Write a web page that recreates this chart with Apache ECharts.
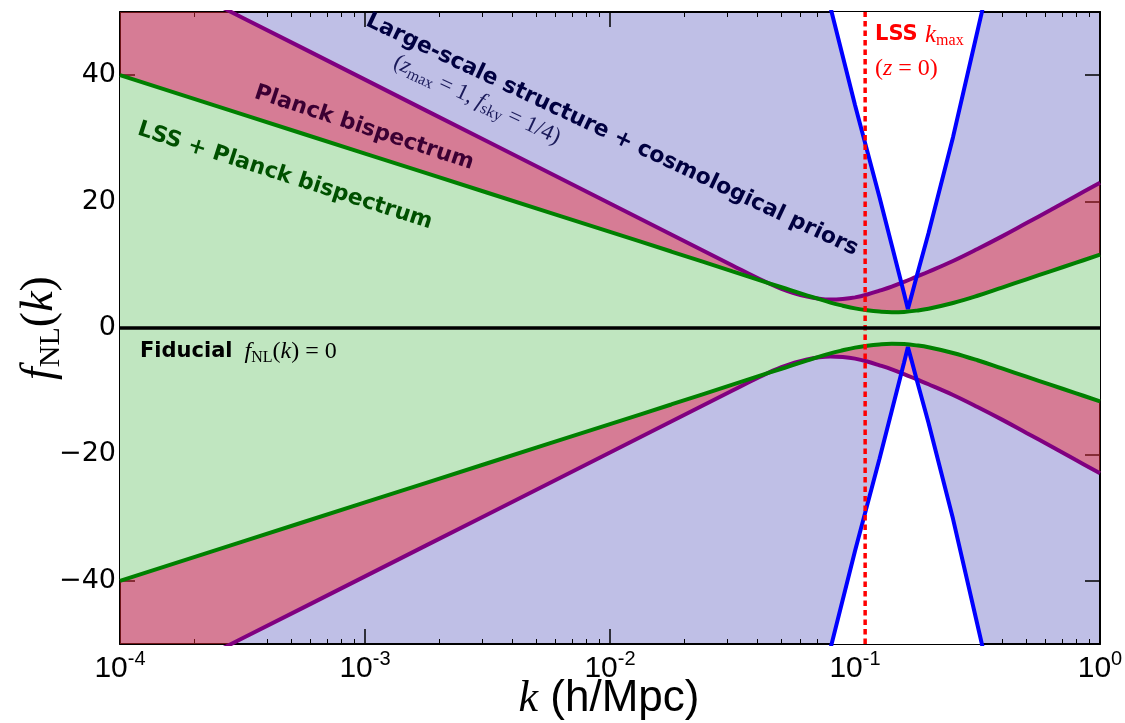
<!DOCTYPE html>
<html><head><meta charset="utf-8">
<script src="https://cdn.jsdelivr.net/npm/echarts@6/dist/echarts.min.js"></script>
<style>html,body{margin:0;padding:0;background:#fff}#c{width:1125px;height:723px}</style>
</head><body><div id="c"></div>
<script>
// ---- data ----
const kGrid = [1e-4, 3.162e-4, 1e-3, 3.162e-3, 1e-2, 1.778e-2, 3.162e-2, 3.981e-2, 5.012e-2, 6.310e-2,
  7.943e-2, 8.913e-2, 0.1, 0.1122, 0.1259, 0.1413, 0.1585, 0.1778, 0.1995, 0.2512, 0.3162, 0.3981,
  0.5012, 0.6310, 0.7943, 1.0];
const planckUpper = [58.9, 49.1, 39.3, 29.5, 19.7, 14.8, 9.9, 7.95, 6.2, 5.0, 4.5, 4.6, 4.85, 5.3, 5.9,
  6.55, 7.3, 8.1, 8.9, 10.6, 12.5, 14.5, 16.6, 18.7, 20.85, 23.0];
const planckLower = [-58.9, -49.1, -39.3, -29.5, -19.7, -14.8, -9.9, -7.95, -6.2, -5.0, -4.5, -4.6, -4.85, -5.3, -5.9,
  -6.55, -7.3, -8.1, -8.9, -10.6, -12.5, -14.5, -16.6, -18.7, -20.85, -23.0];
const comboUpper = [40.0, 33.8, 27.6, 21.4, 15.2, 12.1, 8.95, 7.7, 6.45, 5.2, 4.02, 3.53, 3.1, 2.8, 2.6,
  2.5, 2.55, 2.75, 3.05, 3.95, 5.1, 6.4, 7.7, 9.0, 10.3, 11.6];
const comboLower = [-40.0, -33.8, -27.6, -21.4, -15.2, -12.1, -8.95, -7.7, -6.45, -5.2, -4.02, -3.53, -3.1, -2.8, -2.6,
  -2.5, -2.55, -2.75, -3.05, -3.95, -5.1, -6.4, -7.7, -9.0, -10.3, -11.6];
const kLss = [0.07079, 0.07943, 0.1, 0.1259, 0.1413, 0.1585, 0.1644, 0.1698, 0.1778, 0.1995, 0.2512, 0.3162, 0.3548];
const lssUpper = [56.9, 50.7, 35.3, 20.7, 13.1, 5.5, 3.0, 5.0, 7.9, 15.0, 30.2, 47.0, 55.4];
const lssLower = [-56.9, -50.7, -35.3, -20.7, -13.1, -5.5, -3.0, -5.0, -7.9, -15.0, -30.2, -47.0, -55.4];
const kMaxLSS = 0.11;
const xRange = [1e-4, 1];
const yRange = [-50, 50];
const xTickValues = [1e-4, 1e-3, 1e-2, 1e-1, 1];
const xTickExps = ['-4', '-3', '-2', '-1', '0'];
const yTickValues = [-40, -20, 0, 20, 40];
const yTickLabels = ['\u221240', '\u221220', '0', '20', '40'];
const minorMultipliers = [2, 3, 4, 5, 6, 7, 8, 9];
const decades = [-4, -3, -2, -1];

// ---- build ----
const pairs = (xs, ys) => xs.map((x, i) => [x, ys[i]]);
const minorLog = [];
decades.forEach(d => minorMultipliers.forEach(m => minorLog.push(d + Math.log10(m))));

const COL_LAV = '#bfbfe6', COL_GREENFILL = '#c0e6c0';
const RED_ALPHA = 'rgba(242,42,51,0.45)';
const SERIF = '"Liberation Serif", "DejaVu Serif", serif';
const SANS = '"DejaVu Sans", sans-serif';

function fillSeries(name, data, color, origin, smooth) {
  return { name, type: 'line', data, xAxisIndex: 0, yAxisIndex: 0, symbol: 'none', smooth,
    silent: true, lineStyle: { width: 0 }, areaStyle: { color, opacity: 1, origin }, z: 1 };
}
function lineSeries(name, data, color, width, smooth, z, type) {
  return { name, type: 'line', data, xAxisIndex: 0, yAxisIndex: 0, symbol: 'none', smooth,
    silent: true, lineStyle: { color, width, type: type || 'solid', cap: 'butt' }, z };
}

const axisCommon = {
  splitLine: { show: false }, minorTick: { show: false }, minorSplitLine: { show: false }
};

const option = {
  animation: false,
  backgroundColor: '#ffffff',
  grid: { left: 120, top: 12, width: 980, height: 632, show: true, backgroundColor: COL_LAV,
    borderWidth: 0, containLabel: false, outerBoundsMode: 'none' },
  xAxis: [
    Object.assign({ type: 'log', logBase: 10, min: xRange[0], max: xRange[1], position: 'bottom',
      axisLine: { show: true, onZero: false, lineStyle: { color: '#000', width: 2 } },
      axisTick: { show: true, inside: true, length: 15, lineStyle: { color: '#000', width: 1.5 } },
      axisLabel: { show: true, margin: 5, showMinLabel: true, showMaxLabel: true,
        formatter: v => {
          const i = xTickValues.findIndex(t => Math.abs(Math.log10(t) - Math.log10(v)) < 1e-6);
          return i < 0 ? '' : '{b|10}{s|' + xTickExps[i] + '}';
        },
        rich: {
          b: { fontFamily: '"Liberation Sans", Arial, sans-serif', fontSize: 30, lineHeight: 40, color: '#000' },
          s: { fontFamily: '"Liberation Sans", Arial, sans-serif', fontSize: 20, lineHeight: 22, verticalAlign: 'top', color: '#000' }
        } } }, axisCommon),
    Object.assign({ type: 'log', logBase: 10, min: xRange[0], max: xRange[1], position: 'top',
      axisLine: { show: true, onZero: false, lineStyle: { color: '#000', width: 2 } },
      axisTick: { show: true, inside: true, length: 15, lineStyle: { color: '#000', width: 1.5 } },
      axisLabel: { show: false } }, axisCommon),
    Object.assign({ type: 'value', min: -4, max: 0, position: 'bottom',
      axisLine: { show: false, onZero: false },
      axisTick: { show: true, inside: true, length: 5, customValues: minorLog, lineStyle: { color: '#000', width: 1 } },
      axisLabel: { show: false } }, axisCommon),
    Object.assign({ type: 'value', min: -4, max: 0, position: 'top',
      axisLine: { show: false, onZero: false },
      axisTick: { show: true, inside: true, length: 5, customValues: minorLog, lineStyle: { color: '#000', width: 1 } },
      axisLabel: { show: false } }, axisCommon)
  ],
  yAxis: [
    Object.assign({ type: 'value', min: yRange[0], max: yRange[1], position: 'left',
      axisLine: { show: true, onZero: false, lineStyle: { color: '#000', width: 2 } },
      axisTick: { show: true, inside: true, length: 15, customValues: yTickValues, lineStyle: { color: '#000', width: 1.5 } },
      axisLabel: { show: true, customValues: yTickValues, margin: 4, color: '#000', fontSize: 27, fontFamily: SANS,
        formatter: v => { const i = yTickValues.indexOf(v); return i < 0 ? '' : yTickLabels[i]; } } }, axisCommon),
    Object.assign({ type: 'value', min: yRange[0], max: yRange[1], position: 'right',
      axisLine: { show: true, onZero: false, lineStyle: { color: '#000', width: 2 } },
      axisTick: { show: true, inside: true, length: 15, customValues: yTickValues, lineStyle: { color: '#000', width: 1.5 } },
      axisLabel: { show: false } }, axisCommon)
  ],
  series: [
    fillSeries('LSS allowed (upper)', pairs(kLss, lssUpper), '#ffffff', 'end', false),
    fillSeries('LSS allowed (lower)', pairs(kLss, lssLower), '#ffffff', 'start', false),
    fillSeries('Planck band (upper)', pairs(kGrid, planckUpper), RED_ALPHA, 'auto', 0.4),
    fillSeries('Planck band (lower)', pairs(kGrid, planckLower), RED_ALPHA, 'auto', 0.4),
    fillSeries('Combined band (upper)', pairs(kGrid, comboUpper), COL_GREENFILL, 'auto', 0.4),
    fillSeries('Combined band (lower)', pairs(kGrid, comboLower), COL_GREENFILL, 'auto', 0.4),
    lineSeries('Planck bispectrum (upper)', pairs(kGrid, planckUpper), '#800080', 4, 0.4, 3),
    lineSeries('Planck bispectrum (lower)', pairs(kGrid, planckLower), '#800080', 4, 0.4, 3),
    lineSeries('LSS (upper)', pairs(kLss, lssUpper), '#0000ff', 4, false, 4),
    lineSeries('LSS (lower)', pairs(kLss, lssLower), '#0000ff', 4, false, 4),
    lineSeries('LSS + Planck (upper)', pairs(kGrid, comboUpper), '#008000', 4, 0.4, 5),
    lineSeries('LSS + Planck (lower)', pairs(kGrid, comboLower), '#008000', 4, 0.4, 5),
    lineSeries('LSS kmax', [[kMaxLSS, yRange[0]], [kMaxLSS, yRange[1]]], '#ff0000', 3.5, false, 6, [5.5, 4]),
    lineSeries('Fiducial', [[xRange[0], 0], [xRange[1], 0]], '#000000', 3.5, false, 7)
  ],
  graphic: [
    { type: 'text', x: 612, y: 135, rotation: -25.2 * Math.PI / 180, z: 100,
      style: { text: 'Large-scale structure + cosmological priors', fontFamily: SANS, fontWeight: 'bold',
        fontSize: 22, fill: '#000040', align: 'center', verticalAlign: 'middle' } },
    { type: 'text', x: 477, y: 100, rotation: -25.2 * Math.PI / 180, z: 100,
      style: { text: '{p|(}{i|z}{s|max}{p| = 1, }{i|f}{s|sky}{p| = 1/4)}', align: 'center', verticalAlign: 'middle',
        rich: {
          p: { fontFamily: SERIF, fontSize: 23, lineHeight: 27, fill: '#1a1a5a' },
          i: { fontFamily: SERIF, fontStyle: 'italic', fontSize: 23, lineHeight: 27, fill: '#1a1a5a' },
          s: { fontFamily: SERIF, fontSize: 16, lineHeight: 16, verticalAlign: 'bottom', fill: '#1a1a5a' }
        } } },
    { type: 'text', x: 364, y: 128, rotation: -18.2 * Math.PI / 180, z: 100,
      style: { text: 'Planck bispectrum', fontFamily: SANS, fontWeight: 'bold', fontSize: 22,
        fill: '#3b0033', align: 'center', verticalAlign: 'middle' } },
    { type: 'text', x: 285, y: 176, rotation: -17.8 * Math.PI / 180, z: 100,
      style: { text: 'LSS + Planck bispectrum', fontFamily: SANS, fontWeight: 'bold', fontSize: 22,
        fill: '#005000', align: 'center', verticalAlign: 'middle' } },
    { type: 'text', x: 140, y: 352, z: 100,
      style: { text: '{b|Fiducial}{p|  }{i|f}{s|NL}{p|(}{i|k}{p|) = 0}', align: 'left', verticalAlign: 'middle',
        rich: {
          b: { fontFamily: SANS, fontWeight: 'bold', fontSize: 21, lineHeight: 27, fill: '#000' },
          p: { fontFamily: SERIF, fontSize: 24, lineHeight: 27, fill: '#000' },
          i: { fontFamily: SERIF, fontStyle: 'italic', fontSize: 24, lineHeight: 27, fill: '#000' },
          s: { fontFamily: SERIF, fontSize: 16, lineHeight: 16, verticalAlign: 'bottom', fill: '#000' }
        } } },
    { type: 'text', x: 875, y: 35, z: 100,
      style: { text: '{b|LSS }{i|k}{s|max}', align: 'left', verticalAlign: 'middle',
        rich: {
          b: { fontFamily: SANS, fontWeight: 'bold', fontSize: 21, lineHeight: 27, fill: '#ff0000' },
          i: { fontFamily: SERIF, fontStyle: 'italic', fontSize: 25, lineHeight: 27, fill: '#ff0000' },
          s: { fontFamily: SERIF, fontSize: 16, lineHeight: 16, verticalAlign: 'bottom', fill: '#ff0000' }
        } } },
    { type: 'text', x: 875, y: 69, z: 100,
      style: { text: '{p|(}{i|z}{p| = 0)}', align: 'left', verticalAlign: 'middle',
        rich: {
          p: { fontFamily: SERIF, fontSize: 24, lineHeight: 27, fill: '#ff0000' },
          i: { fontFamily: SERIF, fontStyle: 'italic', fontSize: 24, lineHeight: 27, fill: '#ff0000' }
        } } },
    { type: 'text', x: 40, y: 328, rotation: Math.PI / 2, z: 100,
      style: { text: '{i|f}{s|NL}{p|(}{i|k}{p|)}', align: 'center', verticalAlign: 'middle',
        rich: {
          p: { fontFamily: SERIF, fontSize: 46, lineHeight: 52, fill: '#000' },
          i: { fontFamily: SERIF, fontStyle: 'italic', fontSize: 46, lineHeight: 52, fill: '#000' },
          s: { fontFamily: SERIF, fontSize: 30, lineHeight: 30, verticalAlign: 'bottom', fill: '#000' }
        } } },
    { type: 'text', x: 609, y: 699, z: 100,
      style: { text: '{i|k}{t| (h/Mpc)}', align: 'center', verticalAlign: 'middle',
        rich: {
          i: { fontFamily: SERIF, fontStyle: 'italic', fontSize: 44, lineHeight: 50, fill: '#000' },
          t: { fontFamily: '"Liberation Sans", Arial, sans-serif', fontSize: 44, lineHeight: 50, fill: '#000' }
        } } }
  ]
};
const chart = echarts.init(document.getElementById('c'), null, { renderer: 'canvas' });
chart.setOption(option);
</script></body></html>
